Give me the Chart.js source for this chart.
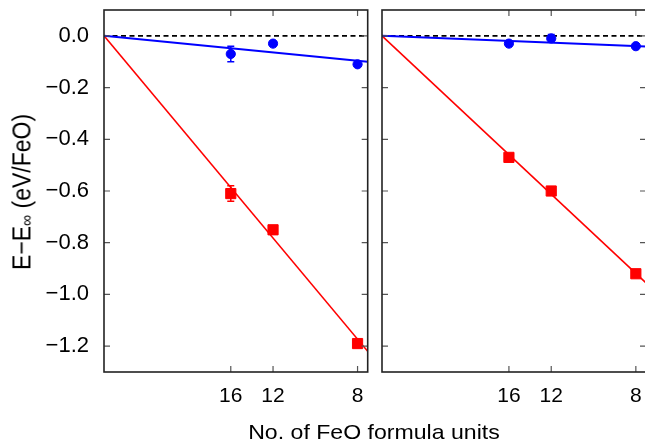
<!DOCTYPE html>
<html><head><meta charset="utf-8">
<script src="https://cdn.jsdelivr.net/npm/chart.js@4.4.1/dist/chart.umd.min.js"></script>
<style>
html,body{margin:0;padding:0;background:#fff;}
body{width:645px;height:443px;overflow:hidden;position:relative;font-family:"Liberation Sans",Arial,sans-serif;}
#wl{position:absolute;left:0;top:0;width:372px;height:443px;}
#wr{position:absolute;left:372px;top:0;width:274px;height:443px;}
#xt{position:absolute;left:174px;top:421px;width:400px;height:21px;line-height:21px;font-size:21px;text-align:center;color:#000;white-space:nowrap;transform:scaleX(1.1);}
#yt{position:absolute;left:-129px;top:179px;width:300px;height:26px;line-height:26px;font-size:23px;text-align:center;color:#000;white-space:nowrap;transform:rotate(-90deg) scale(1,1.12);transform-origin:50% 50%;}
#yt sub{font-size:0.68em;vertical-align:-0.12em;line-height:0;}
</style></head>
<body>
<div id="wl"><canvas id="cl" width="372" height="443"></canvas></div>
<div id="wr"><canvas id="cr" width="274" height="443"></canvas></div>
<div id="xt">No. of FeO formula units</div>
<div id="yt">E−E<sub>∞</sub> (eV/FeO)</div>
<script>
// ---- data ----
const formulaUnits = [16, 12, 8];            // plotted at 1/N
const xTickLabels = ['16', '12', '8'];
const yTickVals = [0, -0.2, -0.4, -0.6, -0.8, -1.0, -1.2];
const yTickLabels = ['0.0', '−0.2', '−0.4', '−0.6', '−0.8', '−1.0', '−1.2'];

// left panel
const leftBlue    = [-0.07, -0.03, -0.11];
const leftBlueErr = [0.03, 0, 0];
const leftRed     = [-0.61, -0.75, -1.19];
const leftRedErr  = [0.03, 0, 0];
// right panel
const rightBlue    = [-0.03, -0.01, -0.04];
const rightBlueErr = [0, 0.015, 0];
const rightRed     = [-0.47, -0.60, -0.92];
const rightRedErr  = [0, 0.012, 0];

// linear fits (value at 1/N = 0 and at 1/N = 0.13)
const fitX = [0, 0.13];
const leftBlueFit  = [0, -0.100];
const leftRedFit   = [0, -1.220];
const rightBlueFit = [0, -0.041];
const rightRedFit  = [0, -0.955];
const zeroLine     = [0, 0];

const xMin = 0, xMax = 0.13, yMin = -1.3, yMax = 0.1;

// ---- helpers ----
const invN = formulaUnits.map(n => 1 / n);
const pts = vals => vals.map((v, i) => ({x: invN[i], y: v}));
const line = vals => vals.map((v, i) => ({x: fitX[i], y: v}));

const FONT = '"Liberation Sans", Arial, Helvetica, sans-serif';

const framePlugin = {
  id: 'frame',
  afterDraw(chart) {
    const {ctx, chartArea: a, scales: {x, y}} = chart;
    ctx.save();
    ctx.strokeStyle = '#555';
    ctx.lineWidth = 1.2;
    const L = 6;
    invN.forEach(v => {
      const px = x.getPixelForValue(v);
      ctx.beginPath();
      ctx.moveTo(px, a.bottom); ctx.lineTo(px, a.bottom - L);
      ctx.moveTo(px, a.top); ctx.lineTo(px, a.top + L);
      ctx.stroke();
    });
    yTickVals.forEach(v => {
      const py = y.getPixelForValue(v);
      ctx.beginPath();
      ctx.moveTo(a.left, py); ctx.lineTo(a.left + L, py);
      ctx.moveTo(a.right, py); ctx.lineTo(a.right - L, py);
      ctx.stroke();
    });
    ctx.strokeStyle = '#222';
    ctx.lineWidth = 1.6;
    ctx.strokeRect(a.left, a.top, a.right - a.left, a.bottom - a.top);
    ctx.restore();
  }
};

const errPlugin = {
  id: 'errbars',
  beforeDatasetsDraw(chart) {
    const {ctx, scales: {y}} = chart;
    ctx.save();
    chart.data.datasets.forEach((ds, i) => {
      if (!ds.errors) return;
      const meta = chart.getDatasetMeta(i);
      meta.data.forEach((el, j) => {
        const e = ds.errors[j];
        if (!e) return;
        const v = ds.data[j].y;
        const y1 = y.getPixelForValue(v + e), y2 = y.getPixelForValue(v - e);
        ctx.strokeStyle = ds.borderColor;
        ctx.lineWidth = 1.5;
        ctx.beginPath();
        ctx.moveTo(el.x, y1); ctx.lineTo(el.x, y2);
        ctx.moveTo(el.x - 3.5, y1); ctx.lineTo(el.x + 3.5, y1);
        ctx.moveTo(el.x - 3.5, y2); ctx.lineTo(el.x + 3.5, y2);
        ctx.stroke();
      });
    });
    ctx.restore();
  }
};

function noPad(s) { s.paddingLeft = 0; s.paddingRight = 0; s.paddingTop = 0; s.paddingBottom = 0; }

function makeChart(id, blue, blueErr, red, redErr, blueFit, redFit, showY, padding) {
  return new Chart(document.getElementById(id), {
    data: {
      datasets: [
        {type: 'scatter', data: pts(blue), errors: blueErr, borderColor: '#0000ff', backgroundColor: '#0000ff',
         pointStyle: 'circle', pointRadius: 4.6, pointBorderWidth: 1, order: 0},
        {type: 'scatter', data: pts(red), errors: redErr, borderColor: '#ff0000', backgroundColor: '#ff0000',
         pointStyle: 'rect', pointRadius: 7.2, pointBorderWidth: 1, order: 0},
        {type: 'line', data: line(blueFit), borderColor: '#0000ff', borderWidth: 2, pointRadius: 0, fill: false, order: 1},
        {type: 'line', data: line(redFit), borderColor: '#ff0000', borderWidth: 1.6, pointRadius: 0, fill: false, order: 1},
        {type: 'line', data: line(zeroLine), borderColor: '#000', borderWidth: 1.6, borderDash: [5, 3.5], pointRadius: 0, fill: false, order: 2}
      ]
    },
    options: {
      responsive: false,
      animation: false,
      devicePixelRatio: 1,
      layout: {padding: padding, autoPadding: false},
      plugins: {legend: {display: false}, tooltip: {enabled: false}},
      scales: {
        x: {
          type: 'linear', min: xMin, max: xMax,
          afterBuildTicks: s => { s.ticks = invN.map(v => ({value: v})); },
          afterFit: s => { s.height = 71; noPad(s); },
          ticks: {
            autoSkip: false, maxRotation: 0, padding: 12,
            color: '#000', font: {family: FONT, size: 21},
            callback: (v, i) => xTickLabels[i]
          },
          grid: {display: false, drawTicks: false},
          border: {display: false}
        },
        y: {
          type: 'linear', min: yMin, max: yMax, display: showY,
          afterBuildTicks: s => { s.ticks = yTickVals.map(v => ({value: v})); },
          afterFit: s => { if (showY) s.width = 104; noPad(s); },
          ticks: {
            autoSkip: false, padding: 15,
            color: '#000', font: {family: FONT, size: 22},
            callback: (v, i) => yTickLabels[i]
          },
          grid: {display: false, drawTicks: false},
          border: {display: false}
        }
      }
    },
    plugins: [errPlugin, framePlugin]
  });
}

makeChart('cl', leftBlue, leftBlueErr, leftRed, leftRedErr, leftBlueFit, leftRedFit, true,
  {left: 0, right: 4.3, top: 10, bottom: 0});
makeChart('cr', rightBlue, rightBlueErr, rightRed, rightRedErr, rightBlueFit, rightRedFit, false,
  {left: 10, right: 0, top: 10, bottom: 0});
</script>
</body></html>
